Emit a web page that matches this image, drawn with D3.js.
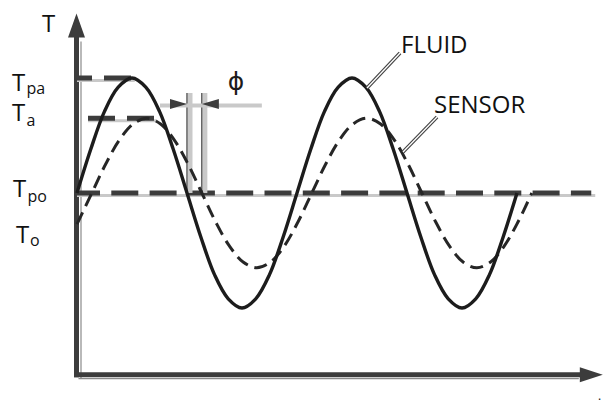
<!DOCTYPE html>
<html><head><meta charset="utf-8">
<script src="https://cdn.jsdelivr.net/npm/d3@7"></script>
<style>body{margin:0;background:#fff}svg{display:block}</style>
</head><body>
<svg id="c" width="604" height="412"></svg>
<script>
// ---- data (time in quarter-periods, temperature relative to Tpo, fluid amplitude = 1) ----
const fluidTime = [0,0.25,0.5,0.75,1,1.25,1.5,1.75,2,2.25,2.5,2.75,3,3.25,3.5,3.75,4,4.25,4.5,4.75,5,5.25,5.5,5.75,6,6.25,6.5,6.75,7,7.25,7.5,7.75,8];
const fluidTemp = [0,0.38,0.71,0.92,1,0.92,0.71,0.38,0,-0.38,-0.71,-0.92,-1,-0.92,-0.71,-0.38,0,0.38,0.71,0.92,1,0.92,0.71,0.38,0,-0.38,-0.71,-0.92,-1,-0.92,-0.71,-0.38,0];
const sensorTime = [0,0.27,0.52,0.77,1.02,1.27,1.52,1.77,2.02,2.27,2.52,2.77,3.02,3.27,3.52,3.77,4.02,4.27,4.52,4.77,5.02,5.27,5.52,5.77,6.02,6.27,6.52,6.77,7.02,7.27,7.52,7.77,8.02,8.27];
const sensorTemp = [-0.27,0,0.25,0.46,0.6,0.65,0.6,0.46,0.25,0,-0.25,-0.46,-0.6,-0.65,-0.6,-0.46,-0.25,0,0.25,0.46,0.6,0.65,0.6,0.46,0.25,0,-0.25,-0.46,-0.6,-0.65,-0.6,-0.46,-0.25,0];
const levelNames  = ["pa", "a", "po"];
const levelValues = [1, 0.65, 0];
const levelStart  = [0, 0.2, 0];
const levelEnd    = [1.05, 1.45, 9.35];
const toValue = -0.43;           // position of the T_o label
const phiFrom = 2, phiTo = 2.27; // fluid / sensor downward crossings
const seriesNames = ["FLUID", "SENSOR"];
const timeMax = 9.56, tempMax = 1.56, tempMin = -1.58;

// ---- scales ----
const x = d3.scaleLinear().domain([0, 8]).range([77, 517]);
const y = d3.scaleLinear().domain([-1, 1]).range([308, 78]);
const svg = d3.select("#c");
const dark = "#3c3c3c", light = "#c9c9c9", ink = "#1c1c1c";
const font = "'Open Sans', sans-serif";

// ---- axes ----
const x0 = x(0) - 0.5, yb = y(tempMin), yt = y(tempMax);
svg.append("line").attr("x1", x0 + 4.5).attr("x2", x0 + 4.5).attr("y1", yt + 28).attr("y2", yb + 4)
  .attr("stroke", "#8a8a8a").attr("stroke-width", 1.2);
svg.append("line").attr("x1", x0 + 2).attr("x2", x(timeMax) - 24).attr("y1", yb + 4).attr("y2", yb + 4)
  .attr("stroke", "#8a8a8a").attr("stroke-width", 1.2);
svg.append("line").attr("x1", x0).attr("x2", x0).attr("y1", yt + 22).attr("y2", yb + 2.5)
  .attr("stroke", dark).attr("stroke-width", 5);
svg.append("line").attr("x1", x0 - 2.5).attr("x2", x(timeMax) - 22).attr("y1", yb).attr("y2", yb)
  .attr("stroke", dark).attr("stroke-width", 5);
svg.append("path").attr("fill", dark)
  .attr("d", `M${x0 - 8.5},${yt + 24}L${x0 + 8.5},${yt + 24}L${x0},${yt}Z`);
svg.append("path").attr("fill", dark)
  .attr("d", `M${x(timeMax) - 23},${yb - 7.5}L${x(timeMax) - 23},${yb + 7.5}L${x(timeMax)},${yb}Z`);

// ---- level lines (gray line + dark dashes) ----
const dashOffset = [12, 0, 4];
levelValues.forEach((v, i) => {
  svg.append("line").attr("x1", x(levelStart[i])).attr("x2", x(levelEnd[i]) + (i === 2 ? 4 : 0))
    .attr("y1", y(v) + 2.5).attr("y2", y(v) + 2.5).attr("stroke", light).attr("stroke-width", 3);
  svg.append("line").attr("x1", x(levelStart[i])).attr("x2", x(levelEnd[i]))
    .attr("y1", y(v)).attr("y2", y(v)).attr("stroke", dark).attr("stroke-width", 5)
    .attr("stroke-dasharray", i === 2 ? "27,11.3" : "27,12").attr("stroke-dashoffset", dashOffset[i]);
});

// ---- phase annotation ----
const xa = x(phiFrom), xb = x(phiTo), ya = 104;
[xa, xb].forEach(xx => {
  svg.append("rect").attr("x", xx + 1).attr("y", ya - 11).attr("width", 4.5).attr("height", y(0) - ya + 11)
    .attr("fill", light);
  svg.append("line").attr("x1", xx).attr("x2", xx).attr("y1", ya - 11).attr("y2", y(0))
    .attr("stroke", "#333").attr("stroke-width", 1.2);
});
svg.append("line").attr("x1", xa - 27).attr("x2", xb + 60).attr("y1", ya + 1.5).attr("y2", ya + 1.5)
  .attr("stroke", light).attr("stroke-width", 4);
svg.append("path").attr("fill", dark).attr("d", `M${xa - 17},${ya - 5}L${xa - 17},${ya + 5}L${xa},${ya}Z`);
svg.append("path").attr("fill", dark).attr("d", `M${xb + 17},${ya - 5}L${xb + 17},${ya + 5}L${xb},${ya}Z`);
svg.append("text").attr("x", 236).attr("y", 90).attr("text-anchor", "middle")
  .attr("font-family", "'DejaVu Sans', sans-serif").attr("font-size", 25).attr("fill", ink).text("ϕ");

// ---- curves ----
const line = d3.line().x(d => x(d[0])).y(d => y(d[1])).curve(d3.curveCatmullRom);
svg.append("path").datum(sensorTime.map((t, i) => [t, sensorTemp[i]])).attr("d", line)
  .attr("fill", "none").attr("stroke", "#262626").attr("stroke-width", 3).attr("stroke-dasharray", "13,7");
svg.append("path").datum(fluidTime.map((t, i) => [t, fluidTemp[i]])).attr("d", line)
  .attr("fill", "none").attr("stroke", ink).attr("stroke-width", 3.4);

// ---- leaders & series labels ----
const leaders = [[367, 88, 400, 53], [403, 152, 437, 117]];
leaders.forEach(l => {
  svg.append("line").attr("x1", l[0]).attr("y1", l[1]).attr("x2", l[2]).attr("y2", l[3])
    .attr("stroke", "#444").attr("stroke-width", 3.6);
  svg.append("line").attr("x1", l[0]).attr("y1", l[1]).attr("x2", l[2]).attr("y2", l[3])
    .attr("stroke", "#fff").attr("stroke-width", 1.3);
});
const labelPos = [[401, 53], [434, 113]];
seriesNames.forEach((n, i) => {
  svg.append("text").attr("x", labelPos[i][0]).attr("y", labelPos[i][1])
    .attr("font-family", font).attr("font-size", 24).attr("fill", "#111").text(n);
});

// ---- T labels ----
svg.append("text").attr("x", 42).attr("y", 32).attr("font-family", font).attr("font-size", 24)
  .attr("fill", "#111").text("T");
const tX = [12, 12, 13], tBase = [91, 121, 197], subDy = [3, 5, 5];
levelValues.forEach((v, i) => {
  svg.append("text").attr("x", tX[i]).attr("y", tBase[i]).attr("font-family", font).attr("font-size", 24)
    .attr("fill", "#111").text("T");
  svg.append("text").attr("x", tX[i] + 14.5).attr("y", tBase[i] + subDy[i]).attr("font-family", font)
    .attr("font-size", 16).attr("fill", "#111").text(levelNames[i]);
});
svg.append("text").attr("x", 16).attr("y", y(toValue) + 0.5).attr("font-family", font).attr("font-size", 24)
  .attr("fill", "#111").text("T");
svg.append("text").attr("x", 30).attr("y", y(toValue) + 3.5).attr("font-family", font).attr("font-size", 16)
  .attr("fill", "#111").text("o");
svg.append("text").attr("x", 598).attr("y", 400).attr("font-family", font).attr("font-size", 12)
  .attr("fill", "#111").text(".");
</script>
</body></html>
